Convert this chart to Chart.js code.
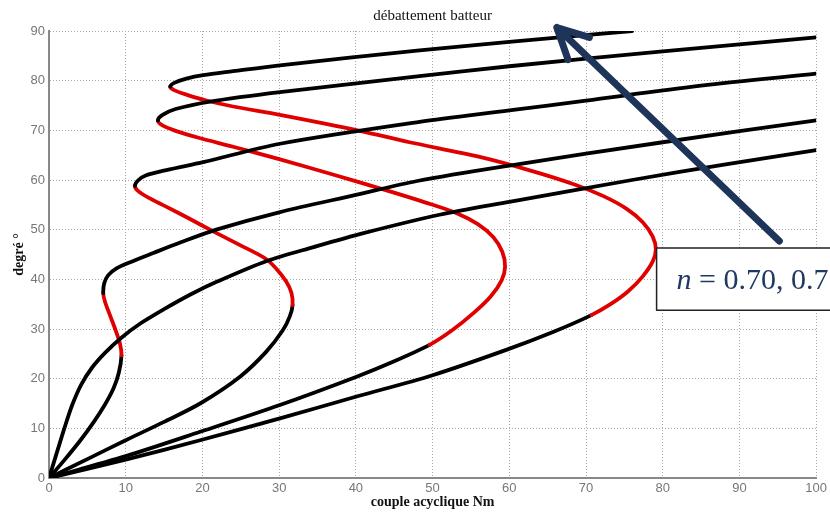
<!DOCTYPE html>
<html>
<head>
<meta charset="utf-8">
<script src="https://cdn.jsdelivr.net/npm/chart.js@4.4.1/dist/chart.umd.min.js"></script>
<style>
  html, body { margin: 0; padding: 0; background: #fff; }
  #wrap { width: 830px; height: 515px; }
</style>
</head>
<body>
<div id="wrap"><canvas id="debattement" width="830" height="515"></canvas></div>
<script>
// couple acyclique (Nm) / débattement (degrés), one list of [x, y] per curve
const curveA = [[0,0],[1.0,5],[2.0,10],[3.0,14.6],[4.2,18.8],[5.6,22.2],[7.3,25.2],[9.4,28.2],[12,31.2],
  [15,34],[18.5,37],[22,39.6],[28.4,43.7],[34.5,46.5],[41,49.3],[50.9,53],[60,55.6],[76,60],[88,63.1],[100,66]];
const curveB = [[0,0],[2,3.6],[4,7.4],[5.8,11.2],[7.3,14.8],[8.4,18],[9.1,21.2],[9.45,24.7],[9.24,27.1],
  [8.6,30.1],[7.94,32.8],[7.3,35.5],[7.07,37.2],[7.2,39.2],[7.7,40.8],[8.8,42.2],[10.5,43.4],[13.6,45.3],
  [17.1,47.4],[21.8,50],[30,53.5],[40,57],[48,59.8],[60,62.9],[80,67.6],[100,72]];
const curveC = [[0,0],[5,3.8],[10,7.6],[15,11.3],[19.7,15],[24.9,20.4],[28.3,25.4],[30.5,29.8],[31.4,32.6],
  [31.75,34.8],[31.6,37.3],[30.9,39.6],[29.6,42.2],[28.2,44.2],[24.9,46.9],[21.6,49.5],[18.2,52.3],
  [15.2,54.7],[12.9,56.5],[11.6,57.8],[11.2,58.8],[11.6,59.9],[12.6,60.9],[15.3,62],[20.1,63.6],[30.1,67.3],
  [48.3,71.7],[60,74],[70,76],[85,79],[100,81.4]];
const curveD = [[0,0],[10,4.4],[19.7,9.3],[30.1,14.7],[40.1,20.4],[45,23.5],[49.6,26.8],[52.5,29.7],
  [55.4,33.3],[57.6,36.6],[59,39.8],[59.45,42.5],[59.1,45.5],[57.9,48.5],[55.9,51.1],[53,53.4],[49,55.5],
  [44,57.9],[37,61.1],[30,64.2],[24,66.7],[19.5,68.5],[16.5,69.9],[14.8,71],[14.2,72],[14.8,73.1],
  [16.5,74.3],[21,75.8],[30.1,77.7],[48.3,80.9],[60,82.9],[80,85.9],[100,88.7]];
const curveE = [[0,0],[10,3.7],[19.7,7.6],[30.1,12],[40.1,16.4],[50,20.7],[59.6,25.8],[65.7,29.4],[70.7,32.8],
  [73.2,35],[75.5,37.6],[77.4,40.6],[78.7,43.6],[79.1,46],[78.7,48.6],[77.4,51.5],[75.3,54.2],[72.2,56.8],
  [68.5,59.1],[63,61.8],[56,64.7],[47,67.6],[40.5,69.9],[30.1,73.1],[24,74.8],[20.5,76],[17.9,77.2],
  [16.3,78.1],[15.8,78.8],[16.4,79.6],[17.9,80.4],[20.1,81.1],[24,81.9],[30.1,83.1],[48.3,86.1],[60,87.8],[76,90]];

// branche instable (rouge) : plage de débattement [début, fin]
const unstableB = [24.7, 37.2];
const unstableC = [34.8, 58.8];
const unstableD = [26.8, 72];
const unstableE = [32.8, 78.8];

const xTicks = [0, 10, 20, 30, 40, 50, 60, 70, 80, 90, 100];
const yTicks = [0, 10, 20, 30, 40, 50, 60, 70, 80, 90];

const noteText = ['n', ' = 0.70, 0.75, 0.80'];

function makeCurve(points, range) {
  return {
    data: points.map(p => ({x: p[0], y: p[1]})),
    showLine: true,
    borderColor: '#000',
    borderWidth: 3.8,
    pointRadius: 0,
    tension: 0.3,
    borderCapStyle: 'round',
    borderJoinStyle: 'round',
    segment: {
      borderColor: ctx => {
        if (!range) return '#000';
        const y0 = ctx.p0.parsed.y, y1 = ctx.p1.parsed.y;
        return (y0 >= range[0] - 1e-6 && y1 <= range[1] + 1e-6) ? '#e00000' : '#000';
      }
    }
  };
}

// titre, flèche et encadré
const annotations = {
  id: 'annotations',
  afterDraw(chart) {
    const {ctx, chartArea, scales: {x, y}} = chart;
    ctx.save();

    ctx.fillStyle = '#111';
    ctx.font = '15px "Liberation Serif", "Times New Roman", serif';
    ctx.textAlign = 'center';
    ctx.textBaseline = 'middle';
    ctx.fillText('débattement batteur', (chartArea.left + chartArea.right) / 2, 16);

    // flèche
    const tx = x.getPixelForValue(66.2), ty = y.getPixelForValue(90.7);
    const sx = x.getPixelForValue(95.2), sy = y.getPixelForValue(47.7);
    const ang = Math.atan2(sy - ty, sx - tx);
    const head = 34, spread = 27 * Math.PI / 180;
    ctx.strokeStyle = '#1f3459';
    ctx.lineWidth = 7;
    ctx.lineCap = 'round';
    ctx.lineJoin = 'round';
    ctx.beginPath();
    ctx.moveTo(sx, sy);
    ctx.lineTo(tx, ty);
    ctx.moveTo(tx + head * Math.cos(ang - spread), ty + head * Math.sin(ang - spread));
    ctx.lineTo(tx, ty);
    ctx.lineTo(tx + head * Math.cos(ang + spread), ty + head * Math.sin(ang + spread));
    ctx.stroke();

    // encadré
    const bx = x.getPixelForValue(79.2), by = y.getPixelForValue(46.3), bb = y.getPixelForValue(33.8);
    ctx.fillStyle = '#fff';
    ctx.fillRect(bx, by, 400, bb - by);
    ctx.strokeStyle = '#222';
    ctx.lineWidth = 1.5;
    ctx.strokeRect(bx, by, 400, bb - by);

    const lx = x.getPixelForValue(81.8), ly = y.getPixelForValue(38);
    ctx.fillStyle = '#1f3864';
    ctx.textAlign = 'left';
    ctx.textBaseline = 'alphabetic';
    ctx.font = 'italic 30px "Liberation Serif", "Times New Roman", serif';
    ctx.fillText(noteText[0], lx, ly);
    const w = ctx.measureText(noteText[0]).width;
    ctx.font = '30px "Liberation Serif", "Times New Roman", serif';
    ctx.fillText(noteText[1], lx + w, ly);

    ctx.restore();
  }
};

const tickFont = {family: '"Liberation Sans", Arial, sans-serif', size: 13};
const axisTitleFont = {family: '"Liberation Serif", "Times New Roman", serif', size: 14, weight: 'bold'};

new Chart(document.getElementById('debattement').getContext('2d'), {
  type: 'scatter',
  data: {
    datasets: [
      makeCurve(curveA, null),
      makeCurve(curveB, unstableB),
      makeCurve(curveC, unstableC),
      makeCurve(curveD, unstableD),
      makeCurve(curveE, unstableE)
    ]
  },
  options: {
    responsive: false,
    animation: false,
    devicePixelRatio: 1,
    layout: {padding: {top: 31, right: 13, left: 0, bottom: 0}},
    plugins: {
      legend: {display: false},
      tooltip: {enabled: false}
    },
    scales: {
      x: {
        type: 'linear',
        min: 0,
        max: 100,
        afterBuildTicks: s => { s.ticks = xTicks.map(v => ({value: v})); },
        afterFit: s => { s.height = 37; },
        ticks: {color: '#777', font: tickFont, padding: 3, maxRotation: 0},
        grid: {color: '#aaa', lineWidth: 1, drawTicks: false},
        border: {color: '#888', width: 2, dash: [1, 2]},
        title: {display: true, text: 'couple acyclique Nm', color: '#111', font: axisTitleFont, padding: {top: 0, bottom: 4}}
      },
      y: {
        type: 'linear',
        min: 0,
        max: 90,
        afterBuildTicks: s => { s.ticks = yTicks.map(v => ({value: v})); },
        afterFit: s => { s.width = 49; },
        ticks: {color: '#777', font: tickFont, padding: 4},
        grid: {color: '#aaa', lineWidth: 1, drawTicks: false},
        border: {color: '#888', width: 2, dash: [1, 2]},
        title: {display: true, text: 'degré °', color: '#111', font: axisTitleFont, padding: {top: 11, bottom: 0}}
      }
    }
  },
  plugins: [annotations]
});
</script>
</body>
</html>
